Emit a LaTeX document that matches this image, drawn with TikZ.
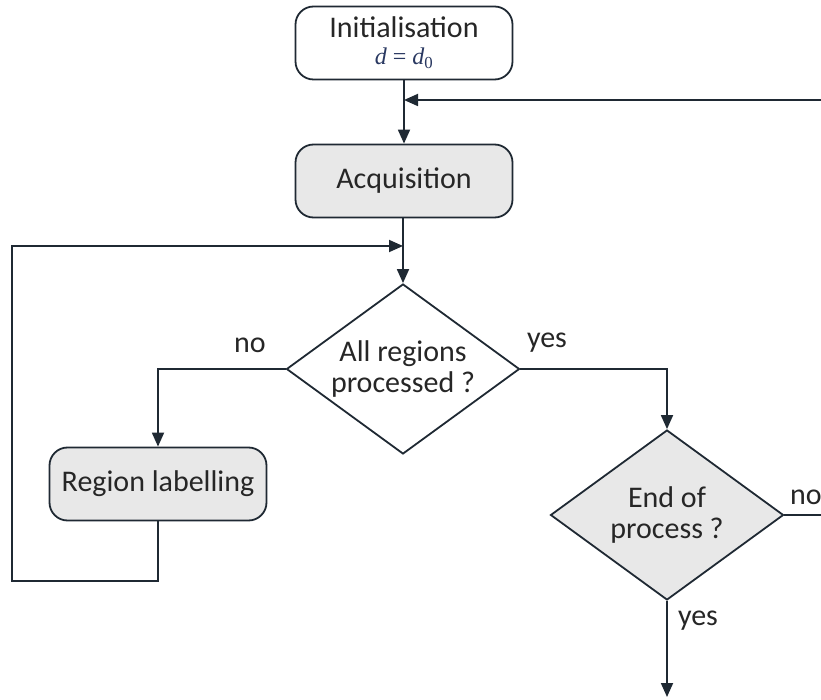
\documentclass[tikz,border=0pt]{standalone}
\usepackage{fontspec}
\setmainfont{Carlito}
\newfontfamily\timesfont{Liberation Serif}
\usepackage{tikz}
\usetikzlibrary{arrows.meta,shapes.geometric}
\definecolor{linec}{rgb}{0.12,0.16,0.2}
\definecolor{boxgray}{rgb}{0.91,0.91,0.91}
\definecolor{navy}{rgb}{0.16,0.22,0.38}

\begin{document}
\begin{tikzpicture}[x=1pt,y=-1pt,>={Triangle[length=14pt,width=12pt]},
		box/.style={draw=linec,line width=1.8pt,rounded corners=18pt,minimum width=217pt,minimum height=73pt,inner sep=0pt,align=center,text=black!85,font=\fontsize{30}{32}\selectfont},
		grey/.style={fill=boxgray},
		decision/.style={draw=linec,line width=1.8pt,diamond,aspect=1.37,minimum width=233pt,minimum height=170pt,inner sep=0pt,align=center,text=black!85,font=\fontsize{30}{31}\selectfont},
		link/.style={draw=linec,line width=1.8pt},
		lab/.style={text=black!85,font=\fontsize{30}{31}\selectfont}]
		
		\useasboundingbox (0,0) rectangle (821,700);
		
		\node[box] (init) at (404,43) {Initialisation\\[-5pt]{\timesfont\fontsize{24}{26}\selectfont\color{navy}\itshape d \upshape= \itshape d\textsubscript{\upshape 0}}};
		\node[box,grey] (acq) at (404,181) {Acquisition};
		\node[decision] (regions) at (403,369) {All regions\\processed ?};
		\node[box,grey] (labelling) at (158,484) {Region labelling};
		\node[decision,grey] (endproc) at (667,515) {End of\\process ?};
		
		\coordinate (fback) at (821,100);
		\coordinate (loopc) at (12,581);
		\coordinate (loopj) at (403,246);
		\coordinate (exitno) at (821,515);
		\coordinate (exityes) at (667,697);
		
		\draw[link,->] (init) -- (acq);
		\draw[link,->] (fback) -- (init.south |- fback);
		\draw[link,->] (acq.south -| regions) -- (regions.north);
		\draw[link,->] (labelling.south) |- (loopc) |- (loopj);
		\draw[link,->] (regions.west) -| (labelling.north);
		\draw[link,->] (regions.east) -| (endproc.north);
		\draw[link] (endproc.east) -- (exitno);
		\draw[link,->] (endproc.south) -- (exityes);
		
		\node[lab] (noleft) at (250,345) {no};
		\node[lab] (yesright) at (547,343) {yes};
		\node[lab] (noend) at (806,497) {no};
		\node[lab] (yesend) at (698,621) {yes};
		
\end{tikzpicture}
\end{document}
